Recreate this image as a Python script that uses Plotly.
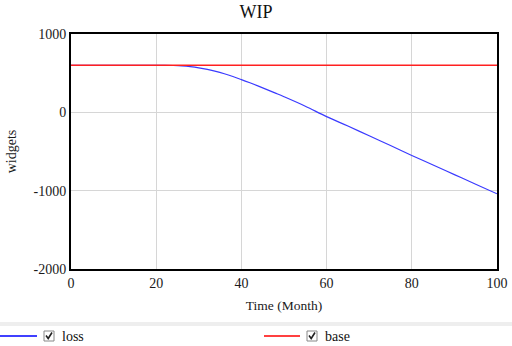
import plotly.graph_objects as go

months = [0, 5, 10, 15, 20, 22, 24, 26, 28, 30, 32, 34, 36, 38, 40, 42, 44, 46, 48, 50,
          55, 60, 65, 70, 75, 80, 85, 90, 95, 100]
loss = [600, 600, 600, 600, 600, 600, 598, 593, 583, 568, 548, 523, 492, 457, 418, 377, 334,
        290, 245, 199, 78, -55, -175, -300, -423, -550, -672, -795, -918, -1040]
base_months = [0, 100]
base = [600, 600]

y_ticks = [1000, 0, -1000, -2000]
y_tick_labels = ["1000", "0", "-1000", "-2000"]
x_ticks = [0, 20, 40, 60, 80, 100]
x_tick_labels = ["0", "20", "40", "60", "80", "100"]

FONT = "Liberation Serif"

fig = go.Figure()
fig.add_trace(go.Scatter(x=months, y=loss, mode="lines", name="loss",
                         line=dict(color="#3a3aff", width=1.2, shape="spline"), showlegend=False))
fig.add_trace(go.Scatter(x=base_months, y=base, mode="lines", name="base",
                         line=dict(color="#ff2020", width=1.5), showlegend=False))

fig.update_layout(
    width=512, height=346,
    margin=dict(l=71, r=15, t=34, b=77, autoexpand=False),
    paper_bgcolor="white", plot_bgcolor="white",
    font=dict(family=FONT, size=14, color="#1a1a1a"),
    title=dict(text="WIP", x=0.5, xanchor="center", y=0.965, yanchor="middle",
               font=dict(family=FONT, size=18, color="#111111")),
    xaxis=dict(range=[0, 100], tickvals=x_ticks, ticktext=x_tick_labels, showgrid=True,
               gridcolor="#d6d6d6", gridwidth=1, automargin=False,
               showline=True, linecolor="black", linewidth=2, mirror=True, zeroline=False,
               ticks="", ticklen=0,
               title=dict(text="Time (Month)", font=dict(size=13.5), standoff=11)),
    yaxis=dict(range=[-2000, 1000], tickvals=y_ticks, ticktext=y_tick_labels, showgrid=True,
               gridcolor="#d6d6d6", gridwidth=1, automargin=False,
               showline=True, linecolor="black", linewidth=2, mirror=True, zeroline=False,
               ticks="", ticklen=0,
               title=dict(text="widgets", font=dict(size=14), standoff=14)),
)

def px_x(p):
    return (p - 71) / 426

def px_y(p):
    return (269 - p) / 235

# separator band above legend
fig.add_shape(type="rect", xref="paper", yref="paper", x0=px_x(0), x1=px_x(512),
              y0=px_y(326), y1=px_y(322), fillcolor="#eeeeee", line=dict(width=0), layer="below")

legend_items = [("loss", "#0000ff", 0, 37, 44, 60), ("base", "#ff0000", 264, 300, 307, 323)]
for name, col, lx0, lx1, cb, tx in legend_items:
    fig.add_shape(type="line", xref="paper", yref="paper", x0=px_x(lx0), x1=px_x(lx1),
                  y0=px_y(336), y1=px_y(336), line=dict(color=col, width=1.5))
    fig.add_shape(type="rect", xref="paper", yref="paper", x0=px_x(cb), x1=px_x(cb + 10),
                  y0=px_y(341), y1=px_y(331), line=dict(color="#888888", width=1), fillcolor="white")
    fig.add_shape(type="path", xref="paper", yref="paper",
                  path=f"M {px_x(cb+2)} {px_y(335.5)} L {px_x(cb+4.2)} {px_y(338.5)} L {px_x(cb+8)} {px_y(332.5)}",
                  line=dict(color="#222222", width=1.6))
    fig.add_annotation(xref="paper", yref="paper", x=px_x(tx), y=px_y(336), text=name,
                       showarrow=False, xanchor="left", yanchor="middle",
                       font=dict(family=FONT, size=14, color="#111111"))

fig.write_html("out.html")
